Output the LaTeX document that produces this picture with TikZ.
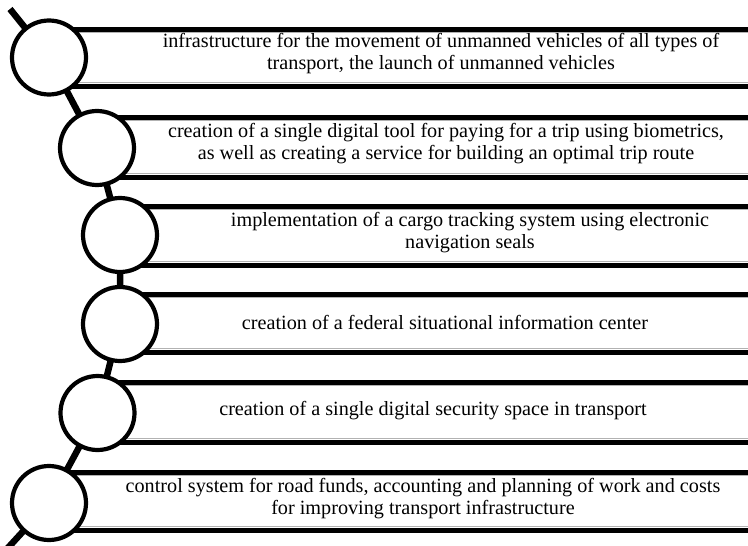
\documentclass[tikz,border=0pt]{standalone}
\usepackage{fontspec}
\setmainfont{Liberation Serif}

\tikzset{
  stepring/.style = {circle, draw, line width = 4.2pt, fill = white, minimum size = 74pt, inner sep = 0pt},
  rowbar/.style = {line width = 5pt},
  rowframe/.style = {draw = gray!60, line width = 0.6pt},
  spine/.style = {line width = 6.5pt},
  rowtext/.style = {align = center, font = \fontsize{20.2}{22}\selectfont}
}

\begin{document}
\begin{tikzpicture}[x = 1pt, y = -1pt]
    \useasboundingbox (0,0) rectangle (748,546);

    % rows: frame and the two heavy bars
    \foreach \xc/\yt/\yb in {49/29/86, 97/117/177, 120/206/265, 120/294/352, 97/382/442, 49/472/530}{
      \draw[rowframe] (\xc,\yt+3.5) rectangle (748,\yb-3.5);
      \draw[rowbar] (\xc,\yt) -- (748,\yt);
      \draw[rowbar] (\xc,\yb) -- (748,\yb);
    }

    \coordinate (tailtop) at (10,9);
    \coordinate (tailbot) at (6,550);
    \coordinate (k1) at (49,57.5);
    \coordinate (k2) at (97,148);
    \coordinate (k3) at (120,235);
    \coordinate (k4) at (120,324);
    \coordinate (k5) at (97.5,413);
    \coordinate (k6) at (49,503);

    \draw[spine] (tailtop) -- (k1) -- (k2) -- (k3) -- (k4) -- (k5) -- (k6) -- (tailbot);

    \node[stepring] (c1) at (k1) {};
    \node[stepring] (c2) at (k2) {};
    \node[stepring] (c3) at (k3) {};
    \node[stepring] (c4) at (k4) {};
    \node[stepring] (c5) at (k5) {};
    \node[stepring] (c6) at (k6) {};

    \node[rowtext] (t1) at (441,54) {infrastructure for the movement of unmanned vehicles of all types of\\transport, the launch of unmanned vehicles};
    \node[rowtext] (t2) at (446,144) {creation of a single digital tool for paying for a trip using biometrics,\\as well as creating a service for building an optimal trip route};
    \node[rowtext] (t3) at (470,233) {implementation of a cargo tracking system using electronic\\navigation seals};
    \node[rowtext] (t4) at (445,322) {creation of a federal situational information center};
    \node[rowtext] (t5) at (433,411) {creation of a single digital security space in transport};
    \node[rowtext] (t6) at (423,499) {control system for road funds, accounting and planning of work and costs\\for improving transport infrastructure};
\end{tikzpicture}
\end{document}
